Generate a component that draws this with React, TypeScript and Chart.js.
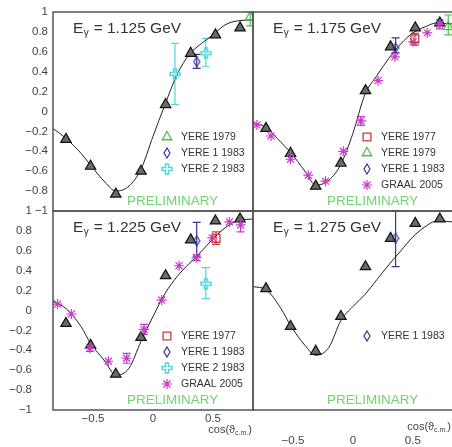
import React, { useEffect, useRef } from "react";
import { Chart, registerables } from "chart.js";
import { drawPoint } from "chart.js/helpers";

Chart.register(...registerables);

const FONT = "'Liberation Sans', Arial, sans-serif";

// ---------- data ----------
const ENERGIES = ["1.125", "1.175", "1.225", "1.275"];
const Y_TICKS = [-1, -0.8, -0.6, -0.4, -0.2, 0, 0.2, 0.4, 0.6, 0.8, 1];
const X_TICKS = [-0.5, 0, 0.5];
const X_MIN = -0.833;
const X_MAX = 0.833;

// black triangles (no legend entry)
const TRI_COS = [-0.725, -0.52, -0.31, -0.1, 0.105, 0.314, 0.52, 0.725];
const TRI_1125 = [-0.28, -0.55, -0.83, -0.6, 0.07, 0.585, 0.77, 0.84];
const TRI_1175 = [-0.17, -0.42, -0.75, -0.52, 0.21, 0.65, 0.84, 0.89];
const TRI_1225 = [-0.13, -0.35, -0.64, -0.27, 0.35, 0.71, 0.9, 0.92];
const TRI_1275 = [0.22, -0.16, -0.41, -0.06, 0.44, 0.725, 0.876, 0.92];

// fitted curves
const FIT_COS = [-0.833, -0.725, -0.6, -0.52, -0.4, -0.31, -0.2, -0.1, 0, 0.1, 0.2, 0.3, 0.4, 0.5, 0.6, 0.7, 0.833];
const FIT_1125 = [-0.17, -0.27, -0.42, -0.54, -0.71, -0.8, -0.75, -0.58, -0.25, 0.07, 0.37, 0.57, 0.68, 0.77, 0.87, 0.91, 0.92];
const FIT_1175 = [-0.11, -0.16, -0.31, -0.41, -0.6, -0.74, -0.69, -0.53, -0.22, 0.17, 0.36, 0.535, 0.68, 0.79, 0.85, 0.89, 0.88];
const FIT_1225 = [0.09, 0.02, -0.16, -0.33, -0.51, -0.65, -0.58, -0.31, -0.06, 0.17, 0.34, 0.47, 0.59, 0.72, 0.83, 0.9, 0.92];
const FIT_1275 = [0.24, 0.21, 0.02, -0.15, -0.35, -0.45, -0.37, -0.1, 0.04, 0.16, 0.31, 0.46, 0.6, 0.74, 0.84, 0.9, 0.89];

// other measurements: [cos, value, low, high]
const YERE77_1175 = [[0.517, 0.73, 0.668, 0.786]];
const YERE77_1225 = [[0.525, 0.725, 0.665, 0.79]];
const YERE79_1125 = [[0.81, 0.95, 0.86, 1.0]];
const YERE79_1175 = [[0.795, 0.85, 0.77, 0.97]];
const YERE1_83_1125 = [[0.364, 0.5, 0.434, 0.575]];
const YERE1_83_1175 = [[0.356, 0.64, 0.59, 0.74]];
const YERE1_83_1225 = [[0.364, 0.7, 0.54, 0.886]];
const YERE1_83_1275 = [[0.356, 0.725, 0.44, 1.0]];
const YERE2_83_1125 = [[0.183, 0.377, 0.07, 0.685], [0.44, 0.585, 0.45, 0.735]];
const YERE2_83_1225 = [[0.44, 0.27, 0.12, 0.43]];
const GRAAL_1175 = [
  [-0.8, -0.135], [-0.683, -0.246], [-0.52, -0.48], [-0.372, -0.64], [-0.228, -0.7], [-0.08, -0.4],
  [0.067, -0.095, -0.14, -0.05], [0.21, 0.31], [0.35, 0.55], [0.503, 0.7], [0.62, 0.79], [0.725, 0.876, 0.83, 0.92],
];
const GRAAL_1225 = [
  [-0.795, 0.065], [-0.68, -0.035], [-0.525, -0.38, -0.41, -0.35], [-0.372, -0.51], [-0.22, -0.48, -0.53, -0.43],
  [-0.075, -0.19, -0.24, -0.14], [0.072, 0.105], [0.217, 0.45], [0.364, 0.53, 0.5, 0.56], [0.494, 0.73],
  [0.636, 0.89], [0.73, 0.86, 0.79, 0.93],
];

// ---------- helpers ----------
const fmt = (v: number) => {
  const r = Math.round(v * 10) / 10;
  if (r === 0) return "0";
  return (r < 0 ? "\u2212" : "") + String(Math.abs(r));
};

function makeDiamond(color: string) {
  const c = document.createElement("canvas");
  c.width = 8; c.height = 12;
  const g = c.getContext("2d")!;
  g.strokeStyle = color; g.lineWidth = 1.2;
  g.beginPath(); g.moveTo(4, 1); g.lineTo(7, 6); g.lineTo(4, 11); g.lineTo(1, 6); g.closePath(); g.stroke();
  return c;
}
function makeCross(color: string) {
  const c = document.createElement("canvas");
  c.width = 12; c.height = 12;
  const g = c.getContext("2d")!;
  g.strokeStyle = color; g.lineWidth = 1.4;
  const p = [[4.5, 1], [7.5, 1], [7.5, 4.5], [11, 4.5], [11, 7.5], [7.5, 7.5], [7.5, 11], [4.5, 11], [4.5, 7.5], [1, 7.5], [1, 4.5], [4.5, 4.5]];
  g.beginPath(); p.forEach(([x, y], i) => (i ? g.lineTo(x, y) : g.moveTo(x, y))); g.closePath(); g.stroke();
  return c;
}

const series = (label: string, rows: number[][], style: any) => ({
  label,
  data: rows.map((r) => ({ x: r[0], y: r[1] })),
  errLo: rows.map((r) => (r.length > 2 ? r[2] : null)),
  errHi: rows.map((r) => (r.length > 3 ? r[3] : null)),
  ...style,
});

const errorBarPlugin = {
  id: "errorBars",
  beforeDatasetsDraw(chart: any) {
    const { ctx, chartArea: a, scales } = chart;
    ctx.save();
    ctx.beginPath();
    ctx.rect(a.left - 1, a.top - 1, a.right - a.left + 2, a.bottom - a.top + 2);
    ctx.clip();
    chart.data.datasets.forEach((ds: any) => {
      if (!ds.errLo) return;
      ctx.strokeStyle = ds.borderColor;
      ctx.lineWidth = 1.2;
      ds.data.forEach((p: any, i: number) => {
        const lo = ds.errLo[i], hi = ds.errHi[i];
        if (lo == null || hi == null) return;
        const x = scales.x.getPixelForValue(p.x);
        const y1 = scales.y.getPixelForValue(lo);
        const y2 = scales.y.getPixelForValue(hi);
        ctx.beginPath();
        ctx.moveTo(x, y1); ctx.lineTo(x, y2);
        ctx.moveTo(x - 4, y1); ctx.lineTo(x + 4, y1);
        ctx.moveTo(x - 4, y2); ctx.lineTo(x + 4, y2);
        ctx.stroke();
      });
    });
    ctx.restore();
  },
};

const decorPlugin = {
  id: "decor",
  afterDraw(chart: any) {
    const o = chart.options.plugins.decor;
    const { ctx, chartArea: a } = chart;
    ctx.save();
    // frame
    ctx.strokeStyle = "#555";
    ctx.lineWidth = 1.5;
    ctx.strokeRect(a.left, a.top, a.right - a.left, a.bottom - a.top);
    // energy title
    ctx.fillStyle = "#333";
    ctx.textBaseline = "alphabetic";
    let x = a.left + 20;
    const base = a.top + 21;
    ctx.font = `15.5px ${FONT}`;
    ctx.fillText("E", x, base);
    x += ctx.measureText("E").width;
    ctx.font = `10px ${FONT}`;
    ctx.fillText("\u03b3", x + 0.5, base + 3);
    x += ctx.measureText("\u03b3").width + 1;
    ctx.font = `15.5px ${FONT}`;
    ctx.fillText(` = ${o.energy} GeV`, x, base);
    // preliminary
    ctx.fillStyle = "#6fd36f";
    ctx.font = `13.5px ${FONT}`;
    ctx.fillText("PRELIMINARY", a.left + 74, a.top + 193);
    // legend
    let row = 0;
    chart.data.datasets.forEach((ds: any) => {
      if (!ds.label) return;
      const y = a.top + 125 + row * 16;
      ctx.strokeStyle = ds.borderColor;
      ctx.fillStyle = ds.backgroundColor || "rgba(0,0,0,0)";
      ctx.lineWidth = ds.borderWidth || 1;
      drawPoint(ctx, { pointStyle: ds.pointStyle, rotation: 0, radius: ds.pointRadius, borderWidth: ds.borderWidth || 1 }, a.left + 114, y);
      ctx.fillStyle = "#333";
      ctx.font = `10.5px ${FONT}`;
      ctx.textBaseline = "middle";
      ctx.fillText(ds.label, a.left + 128, y);
      ctx.textBaseline = "alphabetic";
      row++;
    });
    // axis title
    if (o.axisTitleDy != null) {
      const cy = a.bottom + o.axisTitleDy;
      ctx.fillStyle = "#444";
      ctx.textBaseline = "middle";
      const f1 = `11px ${FONT}`, f2 = `7px ${FONT}`;
      ctx.font = f1; const w1 = ctx.measureText("cos(\u03d1").width; const w3 = ctx.measureText(")").width;
      ctx.font = f2; const w2 = ctx.measureText("c.m.").width;
      let tx = Math.min(a.right, 452) - 1 - (w1 + w2 + w3);
      ctx.font = f1; ctx.fillText("cos(\u03d1", tx, cy); tx += w1;
      ctx.font = f2; ctx.fillText("c.m.", tx, cy + 3); tx += w2;
      ctx.font = f1; ctx.fillText(")", tx, cy);
    }
    ctx.restore();
  },
};

const CW = 460, CH = 447;
const AREA_X = [[53, 253], [253, 453]];
const AREA_Y = [[12, 211], [211, 410]];

function buildConfig(p: any) {
  const [left, right] = AREA_X[p.col];
  const [top, bottom] = AREA_Y[p.row];
  const showY = p.col === 0;
  const showX = p.row === 1;
  const xAxisH = p.xAxisH;
  const tickFont = { family: FONT, size: 11.5 };
  return {
    type: "scatter",
    data: {
      datasets: [
        ...p.extras,
        {
          label: "",
          data: TRI_COS.map((c, i) => ({ x: c, y: p.tri[i] })),
          pointStyle: "triangle", pointRadius: 6, backgroundColor: "#6a6a6a", borderColor: "#111", borderWidth: 1.2,
        },
        {
          label: "",
          type: "line",
          data: FIT_COS.map((c, i) => ({ x: c, y: p.fit[i] })),
          showLine: true, pointRadius: 0, borderColor: "#222", borderWidth: 1, cubicInterpolationMode: "monotone", fill: false,
        },
      ],
    },
    options: {
      responsive: false,
      devicePixelRatio: 1,
      animation: false,
      events: [],
      layout: {
        padding: {
          left: showY ? left - 53 : left,
          right: CW - right,
          top,
          bottom: showX ? CH - bottom - xAxisH : CH - bottom,
        },
      },
      plugins: {
        legend: { display: false },
        tooltip: { enabled: false },
        decor: { energy: p.energy, axisTitleDy: p.axisTitleDy },
      },
      scales: {
        x: {
          type: "linear", min: X_MIN, max: X_MAX, display: showX,
          grid: { display: false, drawTicks: false }, border: { display: false },
          ticks: { padding: p.xTickPad, font: tickFont, color: "#444", callback: (v: number) => fmt(v), maxRotation: 0 },
          afterBuildTicks: (ax: any) => { ax.ticks = X_TICKS.map((v) => ({ value: v })); },
          afterFit: (ax: any) => { if (showX) ax.height = xAxisH; },
        },
        y: {
          type: "linear", min: -1, max: 1, display: showY,
          grid: { display: false, drawTicks: false }, border: { display: false },
          ticks: { padding: p.yTickPad, font: tickFont, color: "#444", callback: (v: number) => fmt(v) },
          afterBuildTicks: (ax: any) => { ax.ticks = Y_TICKS.map((v) => ({ value: v })); },
          afterFit: (ax: any) => { if (showY) ax.width = 53; },
        },
      },
    },
    plugins: [errorBarPlugin, decorPlugin],
  };
}

export default function App() {
  const r0 = useRef<HTMLCanvasElement>(null);
  const r1 = useRef<HTMLCanvasElement>(null);
  const r2 = useRef<HTMLCanvasElement>(null);
  const r3 = useRef<HTMLCanvasElement>(null);
  const refs = [r0, r1, r2, r3];

  useEffect(() => {
    const diamond = makeDiamond("#35359a");
    const cross = makeCross("#4fd6d6");
    const S77 = { pointStyle: "rect", pointRadius: 5.5, borderColor: "#cc3a3a", backgroundColor: "rgba(0,0,0,0)", borderWidth: 1.3 };
    const S79 = { pointStyle: "triangle", pointRadius: 5.5, borderColor: "#4cc04c", backgroundColor: "rgba(0,0,0,0)", borderWidth: 1.3 };
    const S1 = { pointStyle: diamond, pointRadius: 5, borderColor: "#35359a", backgroundColor: "rgba(0,0,0,0)", borderWidth: 1.2 };
    const S2 = { pointStyle: cross, pointRadius: 6, borderColor: "#4fd6d6", backgroundColor: "rgba(0,0,0,0)", borderWidth: 1.2 };
    const SG = { pointStyle: "star", pointRadius: 5, borderColor: "#c83cc8", backgroundColor: "rgba(0,0,0,0)", borderWidth: 1.2 };

    const panels = [
      {
        energy: ENERGIES[0], col: 0, row: 0, tri: TRI_1125, fit: FIT_1125, yTickPad: 5, xTickPad: 2, xAxisH: 20, axisTitleDy: null,
        extras: [series("YERE 1979", YERE79_1125, S79), series("YERE 1 1983", YERE1_83_1125, S1), series("YERE 2 1983", YERE2_83_1125, S2)],
      },
      {
        energy: ENERGIES[1], col: 1, row: 0, tri: TRI_1175, fit: FIT_1175, yTickPad: 5, xTickPad: 2, xAxisH: 20, axisTitleDy: null,
        extras: [series("YERE 1977", YERE77_1175, S77), series("YERE 1979", YERE79_1175, S79), series("YERE 1 1983", YERE1_83_1175, S1), series("GRAAL 2005", GRAAL_1175, SG)],
      },
      {
        energy: ENERGIES[2], col: 0, row: 1, tri: TRI_1225, fit: FIT_1225, yTickPad: 21, xTickPad: 2, xAxisH: 20, axisTitleDy: 20,
        extras: [series("YERE 1977", YERE77_1225, S77), series("YERE 1 1983", YERE1_83_1225, S1), series("YERE 2 1983", YERE2_83_1225, S2), series("GRAAL 2005", GRAAL_1225, SG)],
      },
      {
        energy: ENERGIES[3], col: 1, row: 1, tri: TRI_1275, fit: FIT_1275, yTickPad: 5, xTickPad: 24, xAxisH: 37, axisTitleDy: 17,
        extras: [series("YERE 1 1983", YERE1_83_1275, S1)],
      },
    ];
    const charts = panels.map((p, i) => new Chart(refs[i].current as HTMLCanvasElement, buildConfig(p) as any));
    return () => charts.forEach((c) => c.destroy());
  }, []);

  return (
    <div style={{ position: "fixed", left: 0, top: 0, width: 452, height: 447, overflow: "hidden", background: "#fff" }}>
      {refs.map((r, i) => (
        <canvas key={i} ref={r} width={CW} height={CH} style={{ position: "absolute", left: 0, top: 0 }} />
      ))}
    </div>
  );
}
